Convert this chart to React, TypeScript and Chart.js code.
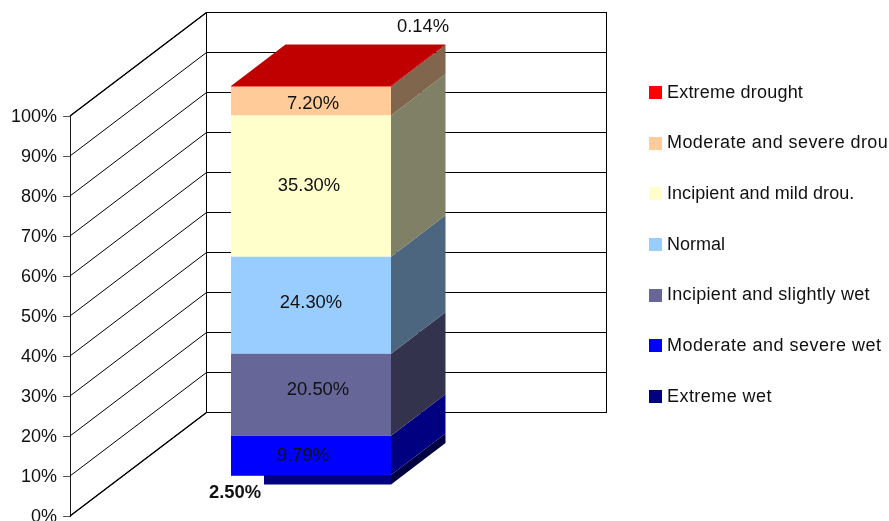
import React, { useEffect, useRef } from "react";
import { Chart, registerables } from "chart.js";

Chart.register(...registerables);

const categories = ["Drought classes"];
const seriesNames = [
  "Extreme wet",
  "Moderate and severe wet",
  "Incipient and slightly wet",
  "Normal",
  "Incipient and mild drou.",
  "Moderate and severe drou",
  "Extreme drought",
];
const seriesValues = [2.5, 9.79, 20.5, 24.3, 35.3, 7.2, 0.14];
const seriesColors = ["#000080", "#0000FF", "#666699", "#99CCFF", "#FFFFCC", "#FFCC99", "#FF0000"];
const sideColors = ["#000040", "#000080", "#33334D", "#4D6680", "#808066", "#80664D", "#800000"];
const topColor = "#C00000";
const valueLabels = ["2.50%", "9.79%", "20.50%", "24.30%", "35.30%", "7.20%", "0.14%"];

// Hand-placed label nudges, relative to the centre of each segment's front face.
const labelNudges = [
  [-76, 13],
  [-8, 1],
  [7, -5],
  [0, -2],
  [-2, 0],
  [2, 3],
  [112, -59],
];

// Per-row letter tracking of the legend text, in pixels.
const legendTracking = [0.45, 0.5, 0.3, 0, 0.05, 0.42, 0.2];

const FONT = '"Liberation Sans", Arial, sans-serif';
const INK = "#111111";

// Oblique projection: the back wall and the bar's position and depth within the box.
const WALL_DX = 137;
const WALL_DY = -104;
const BAR_DX = 41;
const BAR_DY = -31;
const DEPTH_DX = 54.5;
const DEPTH_DY = -41.5;

const crisp = (v: number) => Math.round(v) + 0.5;

const wallsPlugin = {
  id: "walls",
  beforeDatasetsDraw(chart: any) {
    const { ctx, chartArea, scales } = chart;
    const y = scales.y;
    const left = chartArea.left;
    const backLeft = left + WALL_DX;
    const backRight = backLeft + 400;
    ctx.save();
    ctx.strokeStyle = "#000000";
    ctx.lineWidth = 1;
    ctx.beginPath();
    for (let v = 0; v <= 100; v += 10) {
      const py = y.getPixelForValue(v);
      const by = crisp(py + WALL_DY);
      ctx.moveTo(left, py);
      ctx.lineTo(backLeft - 0.5, by);
      ctx.moveTo(backLeft - 0.5, by);
      ctx.lineTo(backRight, by);
    }
    const top = crisp(y.getPixelForValue(100) + WALL_DY);
    const bottom = crisp(y.getPixelForValue(0) + WALL_DY);
    ctx.moveTo(backLeft - 0.5, top);
    ctx.lineTo(backLeft - 0.5, bottom);
    ctx.moveTo(backRight - 0.5, top);
    ctx.lineTo(backRight - 0.5, bottom);
    ctx.stroke();

    // The outer edges of the side wall are a little heavier than its grid lines.
    ctx.lineWidth = 1.4;
    ctx.beginPath();
    [0, 100].forEach((v) => {
      const py = y.getPixelForValue(v);
      ctx.moveTo(left, py);
      ctx.lineTo(backLeft - 0.5, crisp(py + WALL_DY));
    });
    ctx.stroke();
    ctx.restore();

    // Right-hand and top faces of the stacked block.
    const face = (pts: number[][], fill: string) => {
      ctx.fillStyle = fill;
      ctx.beginPath();
      pts.forEach(([px, py], i) => (i ? ctx.lineTo(px, py) : ctx.moveTo(px, py)));
      ctx.closePath();
      ctx.fill();
    };
    chart.data.datasets.forEach((_: any, i: number) => {
      const bar = chart.getDatasetMeta(i).data[0];
      const r = bar.x + bar.width / 2 + BAR_DX;
      const t = bar.y + BAR_DY;
      const b = bar.base + BAR_DY;
      face(
        [
          [r, t],
          [r + DEPTH_DX, t + DEPTH_DY],
          [r + DEPTH_DX, b + DEPTH_DY],
          [r, b],
        ],
        sideColors[i],
      );
    });
    const last = chart.getDatasetMeta(chart.data.datasets.length - 1).data[0];
    const l = last.x - last.width / 2 + BAR_DX;
    const r = last.x + last.width / 2 + BAR_DX;
    const t = last.y + BAR_DY;
    face(
      [
        [l, t],
        [l + DEPTH_DX, t + DEPTH_DY],
        [r + DEPTH_DX, t + DEPTH_DY],
        [r, t],
      ],
      topColor,
    );

    // The front faces are drawn by the library, shifted into the box.
    ctx.save();
    ctx.translate(BAR_DX, BAR_DY);
  },
  afterDatasetsDraw(chart: any) {
    const { ctx } = chart;
    ctx.restore();

    // Value labels; the bold one carries a white plate.
    ctx.save();
    ctx.textAlign = "center";
    ctx.textBaseline = "middle";
    valueLabels.forEach((text, i) => {
      const bar = chart.getDatasetMeta(i).data[0];
      const cx = bar.x + BAR_DX + labelNudges[i][0];
      const cy = (bar.y + bar.base) / 2 + BAR_DY + labelNudges[i][1];
      if (i === 0) {
        ctx.fillStyle = "#FFFFFF";
        ctx.fillRect(cx - 29, cy - 17, 58, 33);
      }
      ctx.font = `${i === 0 ? "bold " : ""}18.4px ${FONT}`;
      ctx.fillStyle = INK;
      ctx.fillText(text, cx, cy);
    });
    ctx.restore();
  },
  afterDraw(chart: any) {
    // Legend column, top series first.
    const { ctx } = chart;
    ctx.save();
    ctx.font = `18px ${FONT}`;
    ctx.textAlign = "left";
    ctx.textBaseline = "middle";
    const rows = seriesNames.length;
    for (let k = 0; k < rows; k++) {
      const i = rows - 1 - k;
      const cy = 92.5 + (k * 304) / (rows - 1);
      ctx.fillStyle = seriesColors[i];
      ctx.fillRect(649, Math.round(cy - 6.5), 13, 13);
      ctx.fillStyle = INK;
      ctx.letterSpacing = `${legendTracking[i]}px`;
      ctx.fillText(seriesNames[i], 667, Math.round(cy));
    }
    ctx.restore();
  },
};

export default function App() {
  const ref = useRef<HTMLCanvasElement | null>(null);

  useEffect(() => {
    const chart = new Chart(ref.current as HTMLCanvasElement, {
      type: "bar",
      data: {
        labels: categories,
        datasets: seriesNames.map((name, i) => ({
          label: name,
          data: [seriesValues[i]],
          backgroundColor: seriesColors[i],
          borderWidth: 0,
          barPercentage: 0.4,
          categoryPercentage: 1,
          clip: false as any,
        })),
      },
      options: {
        responsive: false,
        animation: false,
        layout: { padding: { top: 116, bottom: 5, left: 0, right: 419 } },
        plugins: { legend: { display: false }, tooltip: { enabled: false } },
        scales: {
          x: { stacked: true, display: false },
          y: {
            stacked: true,
            min: 0,
            max: 100,
            afterFit(scale: any) {
              scale.width = 70;
              scale.paddingTop = 0;
              scale.paddingBottom = 0;
            },
            border: { display: true, color: "#1a1a1a", width: 1 },
            grid: { drawOnChartArea: false, drawTicks: true, tickLength: 7, color: "#555555" },
            ticks: {
              stepSize: 10,
              padding: 6,
              labelOffset: 1,
              color: INK,
              font: { family: FONT, size: 18 },
              callback: (v: any) => `${v}%`,
            },
          },
        },
      } as any,
      plugins: [wallsPlugin],
    } as any);
    return () => chart.destroy();
  }, []);

  return (
    <div style={{ position: "absolute", left: 0, top: 0, width: 889, height: 521, background: "#fff", overflow: "hidden" }}>
      <canvas ref={ref} width={889} height={521} style={{ display: "block" }} />
    </div>
  );
}
